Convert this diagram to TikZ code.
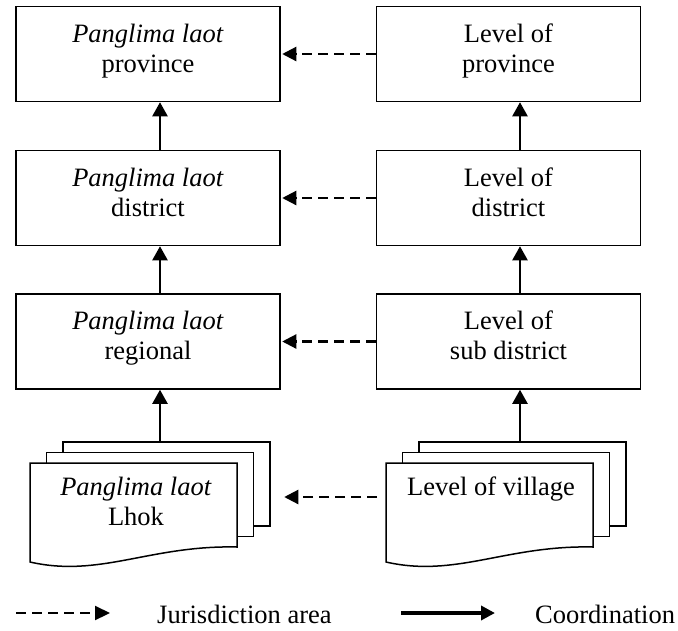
\documentclass[tikz,border=0pt]{standalone}
\usepackage{fontspec}
\setmainfont{Liberation Serif}
\usetikzlibrary{arrows.meta}
\tikzset{
  txt/.style={font=\fontsize{26.5}{30}\selectfont, inner sep=0pt},
  boxnode/.style={draw, line width=1.5pt, minimum width=264pt, minimum height=95pt,
    align=center, txt},
  sheet/.style={draw, line width=1.5pt, fill=white, minimum width=207pt, minimum height=84pt, inner sep=0pt},
  wave/.style={draw, line width=1.5pt, fill=white, line join=miter},
  coordarrow/.style={line width=2.2pt, -{Triangle[length=14pt,width=15pt]}},
  jurarrow/.style={line width=2.2pt, dash pattern=on 10pt off 6pt, -{Triangle[length=14pt,width=14pt]}, shorten >=1.5pt},
  legsolid/.style={line width=3.5pt, -{Triangle[length=14pt,width=14pt]}},
  legdash/.style={line width=2.2pt, dash pattern=on 10pt off 6pt, -{Triangle[length=15pt,width=14pt]}},
}
\newcommand{\mydepth}{\rule[-12pt]{0pt}{0pt}}
\begin{document}
\begin{tikzpicture}[x=1pt,y=-1pt]
\useasboundingbox (0,0) rectangle (678,630);
% boxes
\node[boxnode] (l1) at (148,54) {\textit{Panglima laot}\\province\mydepth};
\node[boxnode] (l2) at (148,198) {\textit{Panglima laot}\\district\mydepth};
\node[boxnode] (l3) at (148,341.5) {\textit{Panglima laot}\\regional\mydepth};
\node[boxnode] (r1) at (508.5,54) {Level of\\province\mydepth};
\node[boxnode] (r2) at (508.5,198) {Level of\\district\mydepth};
\node[boxnode] (r3) at (508.5,341.5) {Level of\\sub district\mydepth};
% left multi-document
\node[sheet] (lb) at (166.5,484) {};
\node[sheet] (lm) at (150,494.5) {};
\draw[wave] (30,463) -- (237,463) -- (237,547) .. controls (150,545) and (100,578) .. (30,562) -- cycle;
\node[txt, align=center] (lt) at (136,501.5) {\textit{Panglima laot}\\Lhok};
% right multi-document
\node[sheet] (rb) at (522.5,484) {};
\node[sheet] (rm) at (506,494.5) {};
\draw[wave] (386,463) -- (593,463) -- (593,547) .. controls (506,545) and (456,578) .. (386,562) -- cycle;
\node[txt, anchor=base] (rt) at (491,495) {Level of village};
\coordinate (rf) at (386,497);
% axis coordinates for vertical arrows
\coordinate (lax) at (160,0);
\coordinate (rax) at (520,0);
% vertical coordination arrows
\draw[coordarrow] (lax |- l2.north) -- (lax |- l1.south);
\draw[coordarrow] (lax |- l3.north) -- (lax |- l2.south);
\draw[coordarrow] (lax |- lb.north) -- (lax |- l3.south);
\draw[coordarrow] (rax |- r2.north) -- (rax |- r1.south);
\draw[coordarrow] (rax |- r3.north) -- (rax |- r2.south);
\draw[coordarrow] (rax |- rb.north) -- (rax |- r3.south);
% jurisdiction arrows
\draw[jurarrow] (r1.west) -- (l1.east);
\draw[jurarrow] (r2.west) -- (l2.east);
\draw[jurarrow] (r3.west) -- (l3.east);
\draw[jurarrow] ([xshift=-9pt]rf) -- ([xshift=12pt]lb.east |- rf);
% legend
\coordinate (ja) at (16,613);
\coordinate (jb) at (110,613);
\coordinate (ca) at (401,613);
\coordinate (cb) at (495,613);
\draw[legdash] (ja) -- (jb);
\draw[legsolid] (ca) -- (cb);
\node[txt, anchor=base west] (jl) at (157,623) {Jurisdiction area};
\node[txt, anchor=base west] (cl) at (535,623) {Coordination};
\end{tikzpicture}
\end{document}
